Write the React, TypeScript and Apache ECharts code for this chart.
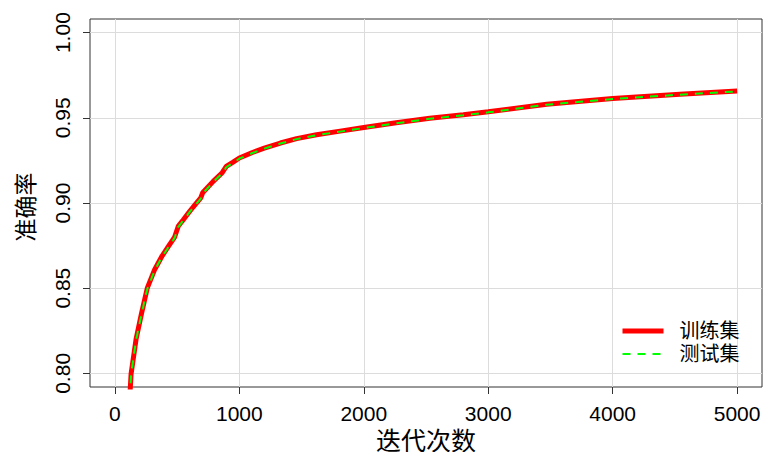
import React, { useEffect, useRef } from "react";
import * as echarts from "echarts";

const iterations = [100, 130, 170, 215, 260, 320, 380, 430, 480, 510, 550, 600, 650, 690, 705, 790, 860, 895, 950, 1000, 1100, 1200, 1330, 1460, 1620, 1810, 2000, 2260, 2530, 2800, 3000, 3470, 4000, 4540, 5000];
const trainAcc = [0.76, 0.7995, 0.82, 0.8355, 0.85, 0.861, 0.869, 0.8745, 0.88, 0.8865, 0.8902, 0.895, 0.8995, 0.903, 0.906, 0.9127, 0.9176, 0.9215, 0.924, 0.9264, 0.9295, 0.9322, 0.9352, 0.9378, 0.9401, 0.9422, 0.9443, 0.9471, 0.9497, 0.9518, 0.9535, 0.958, 0.9613, 0.9639, 0.9657];
const testAcc = [0.759, 0.799, 0.8195, 0.835, 0.8495, 0.8605, 0.8685, 0.874, 0.8795, 0.886, 0.8898, 0.8946, 0.8991, 0.9026, 0.9055, 0.9123, 0.9172, 0.921, 0.9236, 0.926, 0.9292, 0.9319, 0.9349, 0.9375, 0.9398, 0.9419, 0.944, 0.9468, 0.9494, 0.9515, 0.9532, 0.9577, 0.961, 0.9636, 0.9655];
const xTicks = [0, 1000, 2000, 3000, 4000, 5000];
const yTicks = [0.8, 0.85, 0.9, 0.95, 1.0];
const seriesNames = ["训练集", "测试集"];

const FONT = "'Liberation Sans', Arial, 'Noto Sans CJK SC', sans-serif";

export default function App() {
  const ref = useRef<HTMLDivElement>(null);
  useEffect(() => {
    if (!ref.current) return;
    const chart = echarts.init(ref.current, null, { renderer: "svg" });
    const train = iterations.map((x, i) => [x, trainAcc[i]]);
    const test = iterations.map((x, i) => [x, testAcc[i]]);
    chart.setOption({
      animation: false,
      backgroundColor: "#ffffff",
      grid: {
        left: 90,
        right: 1,
        top: 19,
        bottom: 65,
        show: true,
        borderColor: "#333",
        borderWidth: 1,
        backgroundColor: "transparent",
        containLabel: false,
        outerBoundsMode: "none",
      },
      legend: {
        orient: "vertical",
        left: 620,
        top: 321,
        padding: 0,
        itemWidth: 41,
        itemHeight: 20,
        itemGap: 3,
        data: [
          { name: seriesNames[0], lineStyle: { width: 5 } },
          { name: seriesNames[1], lineStyle: { width: 2 } },
        ],
        itemStyle: { opacity: 0 },
        textStyle: {
          fontSize: 20,
          fontFamily: FONT,
          color: "#000",
          padding: [0, 0, 0, 11],
        },
      },
      xAxis: {
        type: "value",
        min: -200,
        max: 5200,
        name: "迭代次数",
        nameLocation: "middle",
        nameGap: 35,
        nameTextStyle: { fontSize: 25, fontFamily: FONT, color: "#000" },
        axisLine: { show: false, onZero: false },
        axisTick: {
          show: true,
          length: 7,
          lineStyle: { color: "#333" },
          customValues: xTicks,
        },
        axisLabel: {
          fontSize: 21,
          fontFamily: FONT,
          color: "#000",
          margin: 16,
          customValues: xTicks,
          formatter: (v: number) => String(v),
        },
        splitLine: { show: true, lineStyle: { color: "#dcdcdc", width: 1 } },
      },
      yAxis: {
        type: "value",
        min: 0.792,
        max: 1.008,
        name: "准确率",
        nameLocation: "middle",
        nameGap: 53,
        nameRotate: 90,
        nameTextStyle: {
          fontSize: 23,
          fontFamily: FONT,
          color: "#000",
          padding: [0, 8, 0, 0],
        },
        axisLine: { show: false, onZero: false },
        axisTick: {
          show: true,
          length: 7,
          lineStyle: { color: "#333" },
          customValues: yTicks,
        },
        axisLabel: {
          fontSize: 21,
          fontFamily: FONT,
          color: "#000",
          margin: 17,
          rotate: 90,
          customValues: yTicks,
          formatter: (v: number) => v.toFixed(2),
        },
        splitLine: { show: true, lineStyle: { color: "#dcdcdc", width: 1 } },
      },
      series: [
        {
          name: seriesNames[0],
          type: "line",
          data: train,
          symbol: "none",
          clip: true,
          lineStyle: { color: "#ff0000", width: 5 },
          itemStyle: { color: "#ff0000" },
        },
        {
          name: seriesNames[1],
          type: "line",
          data: test,
          symbol: "none",
          clip: true,
          lineStyle: { color: "#00ff00", width: 2, type: [8, 7] },
          itemStyle: { color: "#00ff00" },
        },
      ],
    });
    return () => chart.dispose();
  }, []);
  return (
    <div
      ref={ref}
      style={{ position: "fixed", left: 0, top: 0, width: 763, height: 452 }}
    />
  );
}
